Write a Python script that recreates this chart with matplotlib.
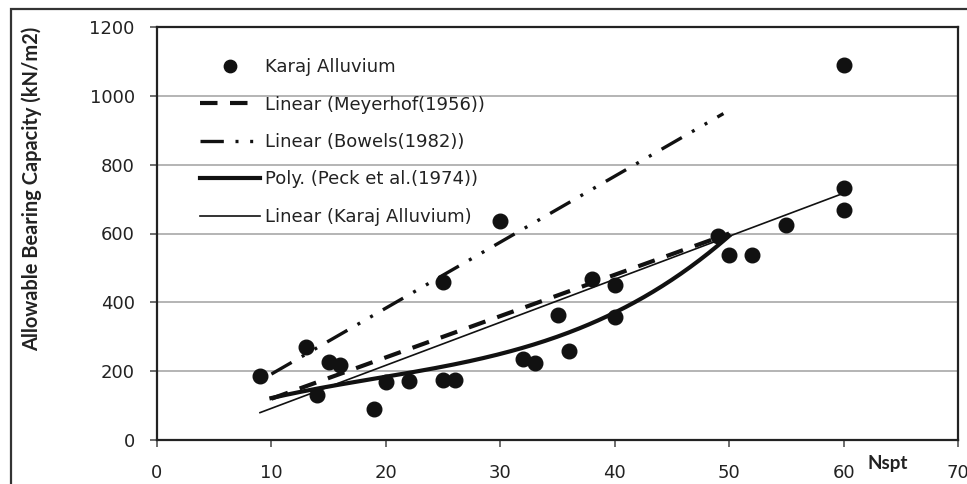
import numpy as np
import matplotlib
matplotlib.use("Agg")
import matplotlib.pyplot as plt
from matplotlib.patches import Rectangle

plt.rcParams['font.family'] = ['DejaVu Sans']

# Measured data (Karaj Alluvium)
nspt = [9, 13, 14, 15, 16, 19, 20, 22, 25, 25, 26, 30, 32, 33, 35, 36, 38, 40, 40,
        49, 50, 52, 55, 60, 60, 60]
capacity = [186, 271, 130, 226, 218, 90, 168, 170, 460, 174, 174, 636, 236, 224, 363,
            258, 468, 450, 357, 593, 537, 537, 625, 1090, 733, 668]

# Trend lines (coefficients)
meyerhof_range = [10, 50]
meyerhof_slope = 12.0
bowels_range = [10, 49.5]
bowels_slope = 19.16
karaj_range = [9, 60]
karaj_slope, karaj_intercept = 12.5, -33.0
# Peck et al. (1974) curve
peck_n = [10, 20, 30, 37, 40, 43, 46, 50]
peck_q = [122, 183, 253, 328, 357, 430, 494, 590]

xticks = [0, 10, 20, 30, 40, 50, 60, 70]
yticks = [0, 200, 400, 600, 800, 1000, 1200]

W, H = 967, 484
fig = plt.figure(figsize=(W / 100, H / 100), dpi=100)
ax = fig.add_axes([157 / W, 1 - 440 / H, (958 - 157) / W, (440 - 27) / H])

fs = 13
ink = '#111111'

# gridlines
ax.set_axisbelow(True)
ax.yaxis.grid(True, color='#a0a0a0', lw=1.1)

# trend lines
xm = np.array(meyerhof_range, dtype=float)
ax.plot(xm, meyerhof_slope * xm, color=ink, lw=3.0, dashes=(4.2, 3.0),
        solid_capstyle='butt', dash_capstyle='butt', label='Linear (Meyerhof(1956))', zorder=3)
xb = np.array(bowels_range, dtype=float)
ax.plot(xb, bowels_slope * xb, color=ink, lw=2.4,
        dashes=(7, 3.5, 0.9, 3.5, 0.9, 3.5), dash_capstyle='butt',
        label='Linear (Bowels(1982))', zorder=3)
coef = np.polyfit(peck_n, peck_q, 3)
xp = np.linspace(peck_n[0], peck_n[-1], 200)
ax.plot(xp, np.polyval(coef, xp), color=ink, lw=3.0, label='Poly. (Peck et al.(1974))', zorder=3)
xk = np.array(karaj_range, dtype=float)
ax.plot(xk, karaj_slope * xk + karaj_intercept, color=ink, lw=1.2,
        label='Linear (Karaj Alluvium)', zorder=3)

ax.plot(nspt, capacity, 'o', color=ink, ms=10.5, mec=ink, label='Karaj Alluvium', zorder=4)

ax.set_xlim(0, 70)
ax.set_ylim(0, 1200)
ax.set_xticks(xticks)
ax.set_yticks(yticks)
ax.tick_params(axis='both', direction='out', length=5, width=1.2, color='#555555',
               labelsize=fs, labelcolor='#222222')
ax.tick_params(axis='x', pad=12)
ax.tick_params(axis='y', pad=11)
for s in ax.spines.values():
    s.set_linewidth(1.6)
    s.set_color('#222222')

handles, labels = ax.get_legend_handles_labels()
order = [4, 0, 1, 2, 3]
leg = ax.legend([handles[i] for i in order], [labels[i] for i in order],
                loc='upper left', bbox_to_anchor=((200 - 157) / 801, (440 - 58) / 413),
                frameon=False, fontsize=fs, handlelength=3.3, handletextpad=0.3,
                labelspacing=1.08, borderpad=0, borderaxespad=0, markerscale=0.85)
for t in leg.get_texts():
    t.set_color('#222222')

ax.set_ylabel('Allowable Bearing Capacity (kN/m2)', fontsize=14.4, fontweight='bold',
              color='#222222', family=['Lato', 'DejaVu Sans'])
ax.yaxis.set_label_coords(-(157 - 42) / 801, (440 - 189) / 413)

fig.text(888 / W, 1 - 463 / H, 'Nspt', fontsize=13.5, fontweight='bold', color='#222222',
         ha='center', va='center', family=['Lato', 'DejaVu Sans'])

# outer frame
fig.add_artist(Rectangle((11 / W, -0.2), 1.5, 1.2 - 9 / H, transform=fig.transFigure,
                         fill=False, lw=1.6, ec='#333333'))

fig.savefig('out.png', dpi=100)
